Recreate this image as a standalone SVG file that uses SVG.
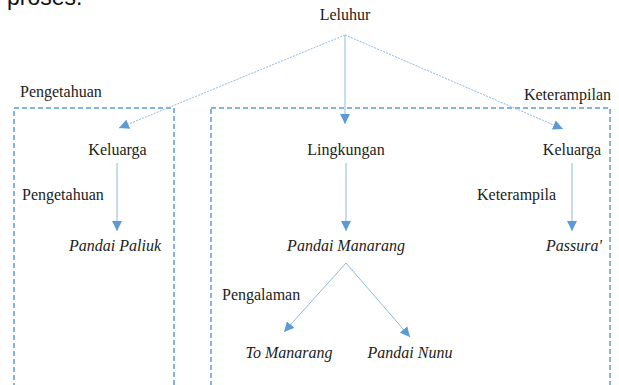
<svg xmlns="http://www.w3.org/2000/svg" width="619" height="385" viewBox="0 0 619 385">
<defs>
<style>
.t{font-family:'Liberation Serif','Times New Roman',serif;font-size:16px;fill:#222}
.i{font-style:italic}
.box{fill:none;stroke:#5B9BD5;stroke-width:1.5;stroke-dasharray:5,3}
.ln{fill:none;stroke:#8DB9E6;stroke-width:1}
.dot{stroke-dasharray:2,1.2}
</style>
<marker id="ah" viewBox="0 0 10 10" refX="10" refY="5" markerWidth="10" markerHeight="10" markerUnits="userSpaceOnUse" orient="auto">
<path d="M0,0 L10,5 L0,10 Z" fill="#5B9BD5"/>
</marker>
</defs>
<rect width="619" height="385" fill="#fff"/>
<g id="boxes">
<rect class="box" x="14" y="108" width="160" height="300"/>
<rect class="box" x="211" y="108" width="399" height="300"/>
</g>
<g id="n-leluhur"><text class="t" x="345" y="20" text-anchor="middle">Leluhur</text></g>
<g id="lbl-pengetahuan1"><text class="t" x="20" y="97">Pengetahuan</text></g>
<g id="lbl-keterampilan1"><text class="t" x="611" y="100" text-anchor="end">Keterampilan</text></g>
<g id="n-keluarga1"><text class="t" x="117.5" y="155" text-anchor="middle">Keluarga</text></g>
<g id="n-lingkungan"><text class="t" x="346" y="155" text-anchor="middle">Lingkungan</text></g>
<g id="n-keluarga2"><text class="t" x="572" y="155" text-anchor="middle">Keluarga</text></g>
<g id="lbl-pengetahuan2"><text class="t" x="22" y="200">Pengetahuan</text></g>
<g id="lbl-keterampila"><text class="t" x="477" y="200">Keterampila</text></g>
<g id="n-paliuk"><text class="t i" x="115" y="251" text-anchor="middle">Pandai Paliuk</text></g>
<g id="n-manarang"><text class="t i" x="346" y="251" text-anchor="middle">Pandai Manarang</text></g>
<g id="n-passura"><text class="t i" x="574" y="251" text-anchor="middle">Passura'</text></g>
<g id="lbl-pengalaman"><text class="t" x="222" y="300">Pengalaman</text></g>
<g id="n-tomanarang"><text class="t i" x="289" y="358" text-anchor="middle">To Manarang</text></g>
<g id="n-nunu"><text class="t i" x="410" y="358" text-anchor="middle">Pandai Nunu</text></g>
<g id="connectors">
<line class="ln dot" x1="345" y1="35" x2="119" y2="128" marker-end="url(#ah)"/>
<line class="ln" x1="345" y1="35" x2="345" y2="124" stroke="#7FB0E0" marker-end="url(#ah)"/>
<line class="ln dot" x1="345" y1="35" x2="563" y2="129" marker-end="url(#ah)"/>
<line class="ln" x1="117" y1="163" x2="117" y2="231" marker-end="url(#ah)"/>
<line class="ln" x1="346" y1="163" x2="346" y2="231" marker-end="url(#ah)"/>
<line class="ln" x1="572" y1="163" x2="572" y2="231" marker-end="url(#ah)"/>
<line class="ln" x1="346" y1="263" x2="284" y2="332" marker-end="url(#ah)"/>
<line class="ln" x1="346" y1="263" x2="410" y2="337" marker-end="url(#ah)"/>
</g>
<text x="7" y="5" font-family="'Liberation Sans',Arial,sans-serif" font-size="23" fill="#111">proses.</text>
</svg>
